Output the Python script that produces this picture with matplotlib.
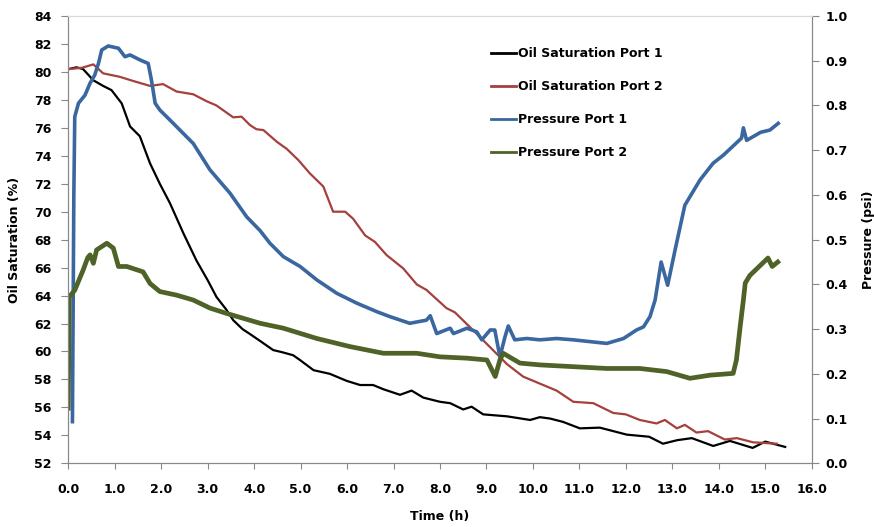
import matplotlib
matplotlib.use('Agg')
import matplotlib.pyplot as plt
from matplotlib.lines import Line2D

# Oil saturation, port 1 (%)
t_sat1 = [0.0, 0.18, 0.32, 0.54, 0.75, 0.93, 1.15, 1.33, 1.54, 1.76, 1.97, 2.19, 2.48, 2.76,
          3.0, 3.19, 3.4, 3.55, 3.75, 3.91, 4.13, 4.41, 4.6, 4.84, 4.99, 5.28, 5.63, 5.99,
          6.28, 6.56, 6.78, 7.14, 7.39, 7.64, 8.0, 8.22, 8.5, 8.68, 8.93, 9.44, 9.94, 10.15,
          10.37, 10.65, 11.01, 11.44, 12.02, 12.5, 12.8, 13.1, 13.42, 13.88, 14.24, 14.73,
          15.0, 15.43]
sat1 = [80.2, 80.33, 80.2, 79.4, 79.0, 78.7, 77.75, 76.1, 75.4, 73.46, 72.0, 70.6, 68.44, 66.5,
        65.1, 63.9, 63.0, 62.24, 61.6, 61.25, 60.75, 60.1, 59.95, 59.73, 59.38, 58.66, 58.4, 57.9,
        57.6, 57.6, 57.3, 56.9, 57.2, 56.7, 56.4, 56.3, 55.85, 56.05, 55.5, 55.36, 55.1, 55.3,
        55.2, 54.96, 54.5, 54.55, 54.05, 53.9, 53.4, 53.65, 53.8, 53.24, 53.6, 53.1,
        53.55, 53.17]

# Oil saturation, port 2 (%)
t_sat2 = [0.0, 0.3, 0.54, 0.75, 1.11, 1.4, 1.76, 2.04, 2.33, 2.69, 2.98, 3.19, 3.55, 3.73, 3.91,
          4.05, 4.2, 4.49, 4.7, 4.95, 5.2, 5.49, 5.7, 5.96, 6.13, 6.39, 6.6, 6.85, 7.21, 7.5,
          7.71, 8.14, 8.32, 8.72, 9.08, 9.44, 9.79, 10.15, 10.51, 10.87, 11.3, 11.73, 12.0,
          12.3, 12.66, 12.84, 13.1, 13.27, 13.52, 13.77, 14.13, 14.39, 14.74, 15.25]
sat2 = [80.2, 80.3, 80.54, 79.9, 79.65, 79.35, 79.0, 79.13, 78.6, 78.4, 77.9, 77.6, 76.75, 76.8,
        76.2, 75.9, 75.84, 75.0, 74.5, 73.7, 72.74, 71.8, 70.0, 70.0, 69.5, 68.3, 67.84, 66.9,
        65.94, 64.8, 64.4, 63.1, 62.8, 61.5, 60.3, 59.1, 58.2, 57.7, 57.2, 56.4, 56.3, 55.6,
        55.5, 55.1, 54.85, 55.1, 54.5, 54.75, 54.2, 54.3, 53.7, 53.8, 53.5, 53.4]

# Pressure, port 1 (psi)
t_p1 = [0.09, 0.12, 0.14, 0.22, 0.36, 0.47, 0.57, 0.65, 0.72, 0.86, 1.08, 1.22, 1.33, 1.54, 1.72,
        1.79, 1.87, 1.97, 2.26, 2.69, 3.05, 3.48, 3.84, 4.13, 4.34, 4.63, 4.99, 5.35, 5.78,
        6.21, 6.64, 6.92, 7.35, 7.71, 7.79, 7.93, 8.22, 8.29, 8.58, 8.79, 8.9, 9.08, 9.18,
        9.29, 9.4, 9.47, 9.61, 9.87, 10.15, 10.51, 10.87, 11.23, 11.59, 11.95, 12.23, 12.38,
        12.52, 12.63, 12.76, 12.9, 13.06, 13.27, 13.6, 13.88, 14.1, 14.49, 14.53, 14.6, 14.9,
        15.1, 15.28]
p1 = [0.093, 0.6, 0.775, 0.805, 0.823, 0.85, 0.868, 0.894, 0.924, 0.933, 0.928, 0.909, 0.913,
      0.902, 0.894, 0.857, 0.805, 0.79, 0.76, 0.715, 0.656, 0.604, 0.551, 0.52, 0.492, 0.462,
      0.44, 0.41, 0.38, 0.358, 0.339, 0.328, 0.313, 0.32, 0.33, 0.29, 0.302, 0.29, 0.302,
      0.294, 0.276, 0.298, 0.298, 0.238, 0.283, 0.307, 0.276, 0.279, 0.276, 0.279, 0.276,
      0.272, 0.268, 0.279, 0.298, 0.305, 0.328, 0.365, 0.45, 0.398, 0.477, 0.577, 0.634,
      0.671, 0.689, 0.727, 0.75, 0.722, 0.74, 0.745, 0.76]

# Pressure, port 2 (psi)
t_p2 = [0.0, 0.02, 0.14, 0.32, 0.42, 0.47, 0.54, 0.61, 0.83, 0.97, 1.08, 1.26, 1.61, 1.76, 1.97,
        2.33, 2.69, 3.05, 3.41, 3.77, 4.13, 4.63, 5.35, 6.06, 6.78, 7.5, 8.0, 8.58, 9.01, 9.19,
        9.29, 9.36, 9.72, 10.15, 10.87, 11.59, 12.3, 12.88, 13.38, 13.81, 14.31, 14.38, 14.46,
        14.53, 14.57, 14.67, 14.9, 15.06, 15.15, 15.27]
p2 = [0.123, 0.372, 0.387, 0.432, 0.46, 0.466, 0.447, 0.477, 0.492, 0.481, 0.44, 0.44, 0.428,
      0.402, 0.384, 0.376, 0.365, 0.347, 0.335, 0.324, 0.313, 0.302, 0.279, 0.261, 0.246,
      0.246, 0.238, 0.235, 0.231, 0.194, 0.231, 0.246, 0.224, 0.22, 0.216, 0.212, 0.212,
      0.205, 0.19, 0.197, 0.201, 0.231, 0.305, 0.365, 0.403, 0.42, 0.443, 0.459, 0.44, 0.45]

labels = ['Oil Saturation Port 1', 'Oil Saturation Port 2', 'Pressure Port 1', 'Pressure Port 2']
colors = ['black', '#A5403C', '#3A67A0', '#4F6228']

plt.rcParams['font.family'] = 'DejaVu Sans'
plt.rcParams['font.weight'] = 'bold'

fig = plt.figure(figsize=(8.74, 5.27), dpi=100)
ax = fig.add_axes([0.0781, 0.1209, 0.8506, 0.8487])
ax2 = ax.twinx()

ax.plot(t_sat1, sat1, color=colors[0], linewidth=1.6)
ax.plot(t_sat2, sat2, color=colors[1], linewidth=1.6)
ax2.plot(t_p1, p1, color=colors[2], linewidth=2.6)
ax2.plot(t_p2, p2, color=colors[3], linewidth=3.4)

ax.set_xlim(0, 16)
ax.set_ylim(52, 84)
ax2.set_ylim(0, 1.0)
ax.set_xticks([i * 1.0 for i in range(17)])
ax.set_xticklabels([f'{i:.1f}' for i in range(17)])
ax.set_yticks(range(52, 85, 2))
ax2.set_yticks([i / 10 for i in range(11)])
ax2.set_yticklabels([f'{i / 10:.1f}' for i in range(11)])

for a in (ax, ax2):
    for s in a.spines.values():
        s.set_color('#888888')
    a.spines['top'].set_color('#D9D9D9')
ax.tick_params(axis='x', length=4, color='#888888', labelsize=9, pad=10)
ax.tick_params(axis='y', length=5, color='#888888', labelsize=9, pad=7)
ax2.tick_params(axis='y', length=5, color='#888888', labelsize=9, pad=5)

ax.set_xlabel('Time (h)', fontsize=9, fontweight='bold')
ax.set_ylabel('Oil Saturation (%)', fontsize=9, fontweight='bold')
ax2.set_ylabel('Pressure (psi)', fontsize=9, fontweight='bold', rotation=90)
ax.xaxis.set_label_coords(0.5, -0.104)
ax.yaxis.set_label_coords(-0.0636, 0.5)
ax2.yaxis.set_label_coords(1.0677, 0.5)

handles = [Line2D([], [], color=c, linewidth=2) for c in colors]
fig.legend(handles, labels, loc='upper left', bbox_to_anchor=(491 / 874, 1 - 47 / 527),
           frameon=False, fontsize=9, handlelength=2.0, handletextpad=0.15,
           labelspacing=1.61, borderpad=0, borderaxespad=0)

fig.savefig('out.png', dpi=100)
